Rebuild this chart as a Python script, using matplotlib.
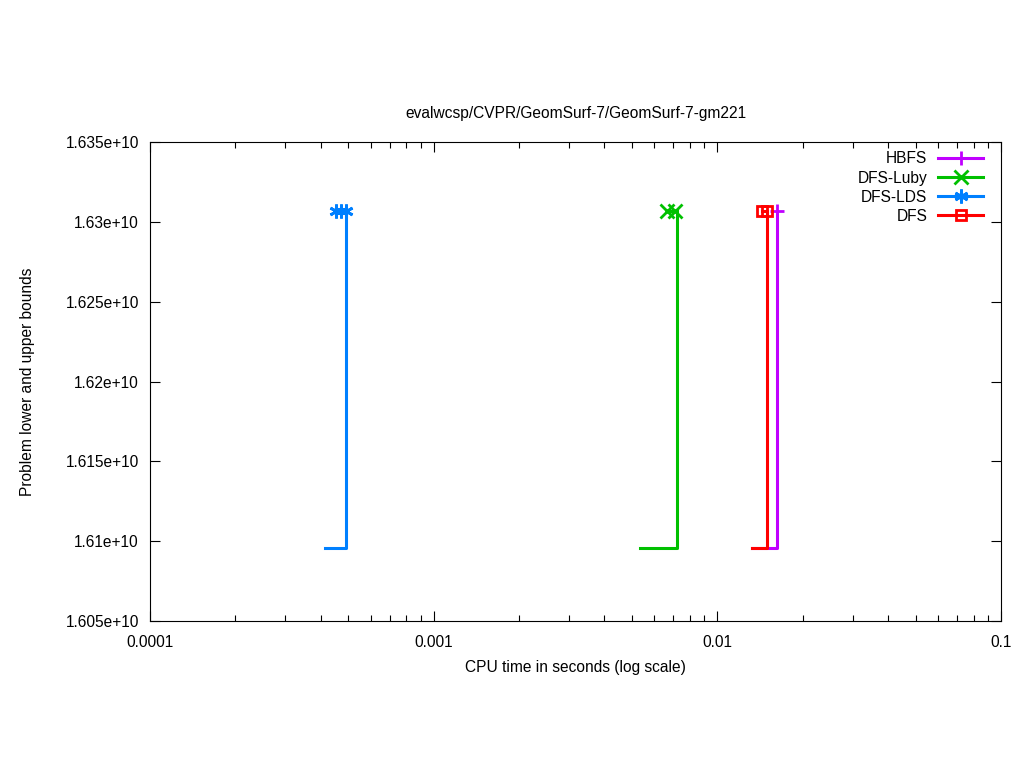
import matplotlib
matplotlib.use("Agg")
import matplotlib.pyplot as plt
from matplotlib.ticker import LogLocator, FixedLocator, NullFormatter, FuncFormatter

plt.rcParams['font.family'] = ['Liberation Sans', 'DejaVu Sans']

title = "evalwcsp/CVPR/GeomSurf-7/GeomSurf-7-gm221"
series_names = ["HBFS", "DFS-Luby", "DFS-LDS", "DFS"]
colors = ["#c000ff", "#00c000", "#0080ff", "#ff0000"]
markers = ["+", "x", (6, 2, 0), "s"]

lower_bound = 1.60957e10
upper_bound = 1.63068e10

# time at which search started (lower bound line start), time at which the bound jumps
start_times = [0.01325, 0.00534, 0.000414, 0.01325]
jump_times = [0.01623, 0.00721, 0.000491, 0.01496]
# times of upper-bound solutions (markers)
ub_times = [[0.01623], [0.00665, 0.00712], [0.000453, 0.000472, 0.000491], [0.01437, 0.01496]]

yticks = [1.605e10, 1.61e10, 1.615e10, 1.62e10, 1.625e10, 1.63e10, 1.635e10]
ytick_labels = ["1.605e+10", "1.61e+10", "1.615e+10", "1.62e+10", "1.625e+10", "1.63e+10", "1.635e+10"]
xticks = [0.0001, 0.001, 0.01, 0.1]
xtick_labels = ["0.0001", "0.001", "0.01", "0.1"]

FS = 11.2

fig = plt.figure(figsize=(10.24, 7.68), dpi=100)
ax = fig.add_axes([150/1024, 1 - 621/768, (1001-150)/1024, (621-142)/768])

for name, c, m, t0, t1, uts in zip(series_names, colors, markers, start_times, jump_times, ub_times):
    ax.plot([t0, t1, t1], [lower_bound, lower_bound, upper_bound], color=c, lw=2.2)
    ax.plot(uts, [upper_bound]*len(uts), color=c, lw=2.2, marker=m,
            markersize=10 if m != "s" else 7.5, markeredgewidth=2,
            markerfacecolor='none' if m == "s" else c, label=name)

ax.set_xscale('log')
ax.set_xlim(0.0001, 0.1)
ax.set_ylim(1.605e10, 1.635e10)
ax.xaxis.set_major_locator(FixedLocator(xticks))
ax.xaxis.set_major_formatter(FuncFormatter(lambda v, p: xtick_labels[xticks.index(min(xticks, key=lambda t: abs(t - v)))]))
ax.xaxis.set_minor_locator(LogLocator(base=10, subs=range(2, 10)))
ax.xaxis.set_minor_formatter(NullFormatter())
ax.yaxis.set_major_locator(FixedLocator(yticks))
ax.set_yticklabels(ytick_labels)

ax.tick_params(which='both', direction='in', top=True, right=True, labelsize=FS)
ax.tick_params(axis='y', pad=8)
ax.tick_params(axis='x', pad=10)
ax.tick_params(which='major', length=7, width=0.8)
ax.tick_params(which='minor', length=4, width=0.8)
for s in ax.spines.values():
    s.set_linewidth(0.8)

ax.set_title(title, fontsize=FS, pad=17)
ax.set_xlabel("CPU time in seconds (log scale)", fontsize=FS, labelpad=7)
ax.set_ylabel("Problem lower and upper bounds", fontsize=FS, labelpad=22)

leg = ax.legend(loc='upper right', frameon=False, fontsize=FS, markerfirst=False,
                handlelength=2.9, numpoints=1, bbox_to_anchor=(0.99, 1.0),
                borderaxespad=0.2, labelspacing=0.27, handletextpad=0.7)

fig.savefig("out.png", dpi=100)
